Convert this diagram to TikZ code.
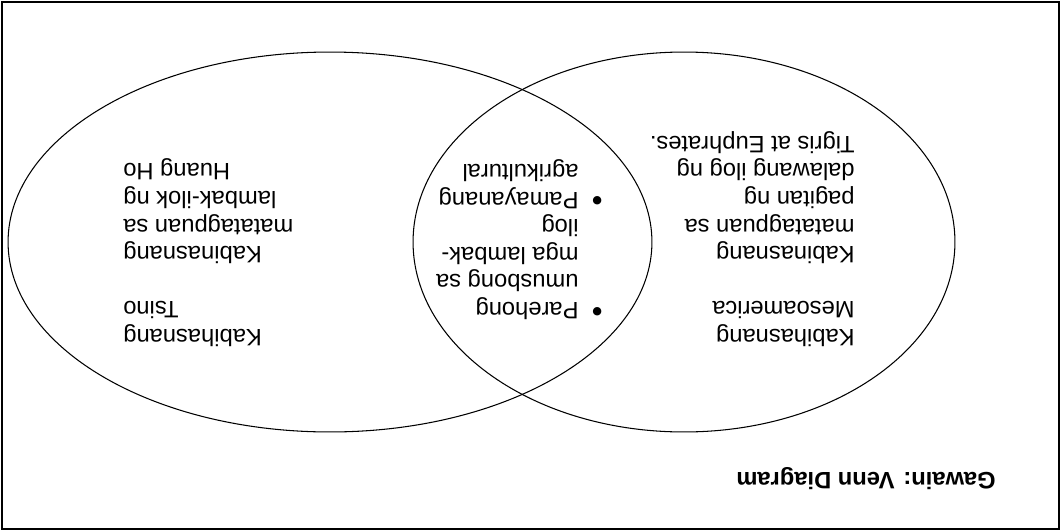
\documentclass[tikz,border=0pt]{standalone}
\usepackage{fontspec}
\setmainfont{Liberation Sans}
\usetikzlibrary{shapes.geometric}

\begin{document}
\begin{tikzpicture}
  [x=0.02cm,y=-0.02cm,
   venn/.style={ellipse,draw,line width=0.6pt,inner sep=0pt,minimum height=7.6cm},
   settext/.style={inner sep=0pt,font=\fontsize{13.5}{15.7}\selectfont}]
  \useasboundingbox (0,0) rectangle (1061,531);
  % the whole sheet is shown upside down
  \begin{scope}[rotate around={180:(530.5,265.5)},transform shape]
  \draw[line width=1.1pt] (2,2) rectangle (1059,529);
  \node[settext,anchor=north west,font=\fontsize{13.5}{15.7}\selectfont\bfseries] (title) at (65,41) {Gawain: Venn Diagram};

  \node[venn,minimum width=10.84cm] (mesoset) at (377,289) {};
  \node[venn,minimum width=12.88cm] (tsinoset) at (731,289) {};

  \node[settext,anchor=north west,align=left] (meso) at (206,184)
    {Kabihasnang\\Mesoamerica\\[15.7pt]Kabinasnang\\matatagpuan sa\\pagitan ng\\dalawang ilog ng\\Tigris at Euphrates.};
  \node[settext,anchor=north east,align=right] (tsino) at (938,184)
    {Kabihasnang\\Tsino\\[15.7pt]Kabinasnang\\matatagpuan sa\\lambak-ilok ng\\Huang Ho};
  \node[settext,anchor=north west] (common) at (458,209)
    {\begin{tabular}{@{}l@{\hspace{7.6pt}}l@{}}
       \raisebox{-0.6pt}{\scalebox{1.3}{\textbullet}} & Parehong\\
                   & umusbong sa\\
                   & mga lambak-\\
                   & ilog\\
       \raisebox{-0.6pt}{\scalebox{1.3}{\textbullet}} & Pamayanang\\
                   & agrikultural
     \end{tabular}};
  \end{scope}
\end{tikzpicture}
\end{document}
